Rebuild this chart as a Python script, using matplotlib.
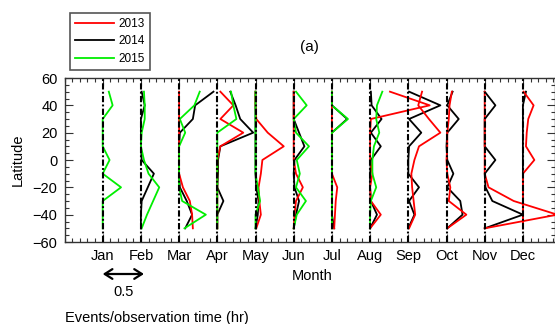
import matplotlib
matplotlib.use("Agg")
import matplotlib.pyplot as plt
from matplotlib.ticker import MultipleLocator
from matplotlib.lines import Line2D

plt.rcParams['font.family'] = ['Liberation Sans', 'DejaVu Sans']

# ---- data -------------------------------------------------------------
months = ["Jan", "Feb", "Mar", "Apr", "May", "Jun",
          "Jul", "Aug", "Sep", "Oct", "Nov", "Dec"]
latitudes = [50, 40, 30, 20, 10, 0, -10, -20, -30, -40, -50]
years = ["2013", "2014", "2015"]
year_colors = ["#ff0000", "#000000", "#00ee00"]

# events / observation time (hr) per 10-degree latitude bin
events_2013 = {
    "Mar": [0, 0, 0, 0, 0, 0, 0, 0.05, 0.14, 0.17, 0.18],
    "Apr": [0.04, 0.21, 0.04, 0.34, 0.04, 0, 0, 0, 0, 0, 0],
    "May": [0, 0, 0.01, 0.16, 0.37, 0.09, 0.07, 0.04, 0.05, 0.07, 0.01],
    "Jun": [0, 0, 0, 0, 0, 0, 0.03, 0.12, 0.03, 0.01, 0],
    "Jul": [0, 0, 0, 0, 0, 0, 0, 0.07, 0.05, 0.04, 0.03],
    "Aug": [0.26, 0.78, 0.01, 0, 0, 0, 0.03, 0, 0.01, 0.14, 0],
    "Sep": [0.18, 0.13, 0.27, 0.42, 0.14, 0.08, 0.04, 0.05, 0.07, 0.09, 0.01],
    "Oct": [0.07, 0.04, 0.03, 0.01, 0.01, 0, 0.01, 0.05, 0.03, 0.26, 0.01],
    "Nov": [0, 0, 0, 0, 0, 0, 0, 0.05, 0.38, 0.95, 0],
    "Dec": [0.01, 0.14, 0.07, 0.05, 0.04, 0.15, 0, 0, 0, 0, 0],
}
events_2014 = {
    "Feb": [0.01, 0.05, 0, 0, 0, 0.01, 0.17, 0.09, 0.01, 0, 0],
    "Mar": [0.45, 0.21, 0.18, 0.01, 0, 0, 0, 0.01, 0.10, 0.17, 0.08],
    "Apr": [0.17, 0.24, 0.30, 0.47, 0.04, 0.01, 0.01, 0, 0.08, 0, 0],
    "May": [0, 0, 0, 0, 0, 0, 0, 0.01, 0.04, 0.03, 0],
    "Jun": [0, 0, 0, 0.07, 0.14, 0.01, 0, 0.01, 0.07, 0.03, 0],
    "Jul": [0, 0, 0.20, 0, 0, 0, 0, 0, 0, 0, 0.03],
    "Aug": [0.01, 0.02, 0.15, 0.01, 0.14, 0.01, 0, 0, 0.01, 0.09, 0],
    "Sep": [0.01, 0.42, 0.01, 0.17, 0.01, 0, 0, 0.14, 0.01, 0.08, 0],
    "Oct": [0.08, 0.01, 0.16, 0.01, 0, 0.01, 0.09, 0.01, 0.18, 0.21, 0.01],
    "Nov": [0, 0.14, 0, 0, 0, 0.14, 0, 0.01, 0.10, 0.50, 0],
    "Dec": [0.04, 0, 0, 0, 0, 0, 0, 0, 0, 0, 0],
}
events_2015 = {
    "Jan": [0.08, 0.13, 0, 0, 0, 0.09, 0, 0.24, 0, 0, 0],
    "Feb": [0.04, 0.05, 0.05, 0.01, 0, 0.04, 0.10, 0.24, 0.16, 0.08, 0.01],
    "Mar": [0.27, 0.20, 0.01, 0.08, 0, 0, 0, 0, 0.04, 0.35, 0.07],
    "Apr": [0.18, 0.21, 0.25, 0, 0, 0, 0, 0, 0, 0, 0],
    "May": [0, 0, 0, 0, 0, 0, 0, 0.03, 0.06, 0, 0],
    "Jun": [0.03, 0.17, 0, 0.03, 0.20, 0.04, 0.08, 0.03, 0.16, 0.04, 0],
    "Jul": [0, 0, 0.21, 0, 0, 0, 0, 0, 0, 0, 0],
    "Aug": [0.16, 0.09, 0.08, 0.12, 0.05, 0.03, 0.03, 0.08, 0.01, 0, 0],
}
hr_per_month = 0.5   # horizontal scale: one month spacing = 0.5 hr
scale_label = "0.5"

# ---- figure -------------------------------------------------------------
W, H = 555, 324
fig = plt.figure(figsize=(W / 100, H / 100), dpi=100)
x_left_px, month_px = 64.5, 38.2
ax = fig.add_axes([x_left_px / W, 1 - 242 / H, 1 - x_left_px / W, 164 / H])
ax.set_xlim(0, (W - x_left_px) / month_px)
ax.set_ylim(-60, 60)

series = {"2013": events_2013, "2014": events_2014, "2015": events_2015}
draw_order = [("2014", 2), ("2013", 3), ("2015", 4)]
for yr, z in draw_order:
    color = year_colors[years.index(yr)]
    for mname, vals in series[yr].items():
        m = months.index(mname) + 1
        xs = [m + v / hr_per_month for v in vals]
        ax.plot(xs, latitudes, color=color, lw=1.3, zorder=z)

for i in range(len(months)):
    ax.axvline(i + 1, color="black", lw=1.5, zorder=5,
               linestyle=(0, (3.0, 1.1, 0.9, 1.1)))

ax.set_xticks(range(1, 13))
ax.set_xticklabels(months)
ax.xaxis.set_minor_locator(MultipleLocator(0.2))
ax.set_yticks(range(-60, 61, 20))
ax.yaxis.set_minor_locator(MultipleLocator(5))
ax.tick_params(which="both", direction="in", top=True, right=True,
               labelsize=10.5, width=0.8, color="#333333")
ax.tick_params(which="major", length=5.5, pad=5)
ax.tick_params(which="minor", length=2.8)
for sp in ax.spines.values():
    sp.set_linewidth(1.0)
    sp.set_color("#333333")

fig.text(18 / W, 1 - 160 / H, "Latitude", rotation=90, ha="center",
         va="center", fontsize=10.5)
fig.text(311.7 / W, 1 - 276 / H, "Month", ha="center", va="center",
         fontsize=10.5)
fig.text(309 / W, 1 - 47 / H, "(a)", ha="center", va="center", fontsize=11)

# scale arrow
ax.annotate("", xy=(1 + 0.5 / hr_per_month + 0.08, H - 274), xytext=(1, H - 274),
            xycoords=("data", "figure pixels"),
            textcoords=("data", "figure pixels"),
            arrowprops=dict(arrowstyle="<->,head_length=0.55,head_width=0.35",
                            lw=1.6, color="black", shrinkA=0, shrinkB=0),
            annotation_clip=False)
fig.text(124 / W, 1 - 292 / H, scale_label, ha="center", va="center",
         fontsize=10.5)
fig.text(157 / W, 1 - 318 / H, "Events/observation time (hr)", ha="center",
         va="center", fontsize=10.5)

handles = [Line2D([], [], color=c, lw=1.3) for c in year_colors]
leg = fig.legend(handles, years, loc="upper left",
                 bbox_to_anchor=(70 / W, 1 - 12.7 / H), borderaxespad=0,
                 fontsize=8.5, handlelength=3.3, handletextpad=0.35,
                 labelspacing=0.45, borderpad=0.45, fancybox=False,
                 framealpha=1)
leg.get_frame().set_edgecolor("#555555")
leg.get_frame().set_linewidth(1.2)

fig.savefig("out.png", dpi=100)
